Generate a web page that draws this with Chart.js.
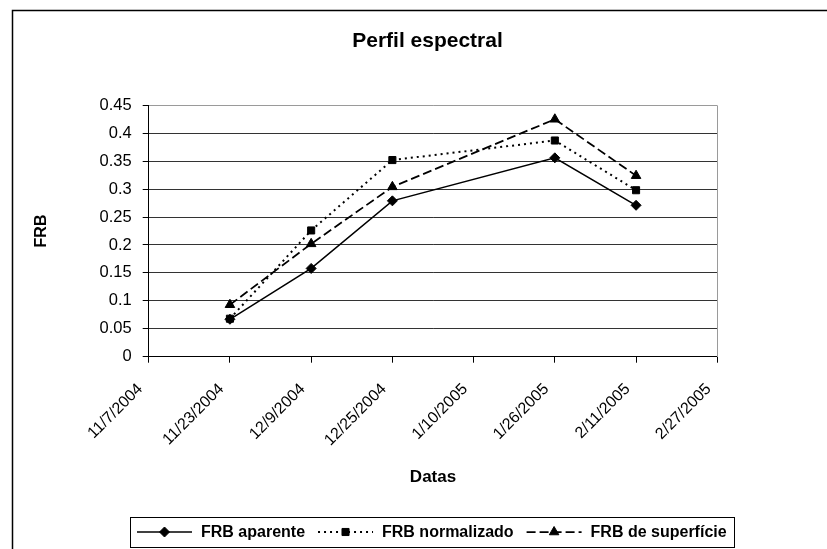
<!DOCTYPE html>
<html>
<head>
<meta charset="utf-8">
<title>Perfil espectral</title>
<script src="https://cdn.jsdelivr.net/npm/chart.js@4.4.0/dist/chart.umd.min.js"></script>
<style>
  html, body { margin: 0; padding: 0; background: #fff; overflow: hidden; }
  canvas { display: block; }
</style>
</head>
<body>
<canvas id="grafico" width="827" height="549"></canvas>
<script>
// datas das medições (m/d/aaaa)
const datas = ["11/23/2004", "12/9/2004", "12/25/2004", "1/26/2005", "2/11/2005"];

// séries
const frbAparente = [0.067, 0.158, 0.279, 0.356, 0.271];
const frbNormalizado = [0.068, 0.226, 0.352, 0.387, 0.298];
const frbSuperficie = [0.093, 0.202, 0.304, 0.425, 0.324];

// rótulos dos eixos
const xTickLabels = ["11/7/2004", "11/23/2004", "12/9/2004", "12/25/2004",
  "1/10/2005", "1/26/2005", "2/11/2005", "2/27/2005"];
const yTicks = [0, 0.05, 0.1, 0.15, 0.2, 0.25, 0.3, 0.35, 0.4, 0.45];
const yTickLabels = ["0", "0.05", "0.1", "0.15", "0.2", "0.25", "0.3", "0.35", "0.4", "0.45"];

const FONT = "'Liberation Sans', Arial, sans-serif";

// dias desde 1970 (eixo x linear)
function dia(s) {
  const [m, d, y] = s.split("/").map(Number);
  return Date.UTC(y, m - 1, d) / 86400000;
}

const pontos = (vals) => vals.map((v, i) => ({ x: dia(datas[i]), y: v }));

Chart.defaults.font.family = FONT;
Chart.defaults.color = "#000";

function marcador(ctx, estilo, x, y, r) {
  ctx.beginPath();
  if (estilo === "rectRot") {
    ctx.moveTo(x, y - r); ctx.lineTo(x + r, y); ctx.lineTo(x, y + r); ctx.lineTo(x - r, y);
  } else if (estilo === "rect") {
    const s = r * Math.SQRT1_2;
    ctx.rect(x - s, y - s, 2 * s, 2 * s);
  } else {
    const h = r * 1.5, w = r * Math.sqrt(3) / 2;
    ctx.moveTo(x, y - r); ctx.lineTo(x + w, y + h - r); ctx.lineTo(x - w, y + h - r);
  }
  ctx.closePath();
  ctx.fill();
  ctx.stroke();
}

// moldura externa + borda cinza da área de plotagem
const moldura = {
  id: "moldura",
  beforeDraw(chart) {
    const ctx = chart.ctx;
    ctx.save();
    ctx.strokeStyle = "#000";
    ctx.lineWidth = 1.5;
    ctx.strokeRect(12.5, 10.5, 1000, 1000);
    ctx.restore();
  },
  beforeDatasetsDraw(chart) {
    const { ctx, chartArea: a } = chart;
    ctx.save();
    ctx.strokeStyle = "#9a9a9a";
    ctx.lineWidth = 1;
    ctx.beginPath();
    ctx.moveTo(Math.round(a.right) + 0.5, Math.round(a.top) + 0.5);
    ctx.lineTo(Math.round(a.right) + 0.5, Math.round(a.bottom));
    ctx.stroke();
    ctx.restore();
  },
};

// legenda no estilo Excel (linha + marcador)
const legenda = {
  id: "legenda",
  afterDraw(chart) {
    const ctx = chart.ctx;
    const sampleW = 55, gapText = 9, gapItem = 13, pad = 7, h = 30;
    ctx.save();
    ctx.font = "bold 16px " + FONT;
    const itens = chart.data.datasets.map((ds) => ({ ds, w: ctx.measureText(ds.label).width }));
    const total = pad * 2 + itens.reduce((a, it) => a + sampleW + gapText + it.w, 0) + gapItem * (itens.length - 1);
    const a = chart.chartArea;
    let x = Math.round((a.left + a.right) / 2 - 1.5 - total / 2);
    const top = Math.round(chart.scales.x.bottom + 20);
    const cy = top + h / 2;
    ctx.strokeStyle = "#000";
    ctx.lineWidth = 1;
    ctx.strokeRect(x + 0.5, top + 0.5, Math.round(total), h);
    x += pad;
    itens.forEach((it) => {
      const ds = it.ds;
      ctx.strokeStyle = "#000";
      ctx.fillStyle = "#000";
      ctx.lineWidth = ds.borderWidth;
      ctx.setLineDash(ds.borderDash || []);
      ctx.beginPath();
      ctx.moveTo(x, cy);
      ctx.lineTo(x + sampleW, cy);
      ctx.stroke();
      ctx.setLineDash([]);
      ctx.lineWidth = 1;
      marcador(ctx, ds.pointStyle, x + sampleW / 2, cy, ds.pointRadius);
      ctx.textBaseline = "middle";
      ctx.textAlign = "left";
      ctx.fillText(ds.label, x + sampleW + gapText, cy + 1);
      x += sampleW + gapText + it.w + gapItem;
    });
    ctx.restore();
  },
};

new Chart(document.getElementById("grafico"), {
  type: "line",
  data: {
    datasets: [
      {
        label: "FRB aparente",
        data: pontos(frbAparente),
        borderColor: "#000", backgroundColor: "#000",
        borderWidth: 1.5,
        pointStyle: "rectRot", pointRadius: 5,
        pointBackgroundColor: "#000", pointBorderColor: "#000", pointBorderWidth: 1,
      },
      {
        label: "FRB normalizado",
        data: pontos(frbNormalizado),
        borderColor: "#000", backgroundColor: "#000",
        borderWidth: 2, borderDash: [2, 4],
        pointStyle: "rect", pointRadius: 5,
        pointBackgroundColor: "#000", pointBorderColor: "#000", pointBorderWidth: 1,
      },
      {
        label: "FRB de superfície",
        data: pontos(frbSuperficie),
        borderColor: "#000", backgroundColor: "#000",
        borderWidth: 1.75, borderDash: [9, 4],
        pointStyle: "triangle", pointRadius: 5.5,
        pointBackgroundColor: "#000", pointBorderColor: "#000", pointBorderWidth: 1,
      },
    ],
  },
  options: {
    responsive: false,
    animation: false,
    devicePixelRatio: 1,
    layout: { padding: { left: 28, right: 0, top: 10, bottom: 52.3 } },
    elements: { line: { tension: 0, fill: false } },
    plugins: {
      legend: { display: false },
      tooltip: { enabled: false },
      title: {
        display: true,
        text: "Perfil espectral",
        color: "#000",
        font: { size: 21, weight: "bold" },
        padding: { top: 18.4, bottom: 51.7 },
      },
    },
    scales: {
      x: {
        type: "linear",
        min: dia(xTickLabels[0]),
        max: dia(xTickLabels[xTickLabels.length - 1]),
        afterBuildTicks: (s) => { s.ticks = xTickLabels.map((t) => ({ value: dia(t) })); },
        afterFit: (s) => { s.height = 140; },
        ticks: {
          callback: (v, i) => xTickLabels[i],
          autoSkip: false,
          minRotation: 45,
          maxRotation: 45,
          labelOffset: -8.5,
          padding: 17,
          color: "#000",
          font: { size: 16 },
        },
        grid: { drawOnChartArea: false, tickLength: 6, color: "#000" },
        border: { color: "#000", width: 1 },
        title: {
          display: true,
          text: "Datas",
          color: "#000",
          font: { size: 17, weight: "bold" },
          padding: { top: 0, bottom: 9 },
        },
      },
      y: {
        min: 0,
        max: 0.45,
        afterBuildTicks: (s) => { s.ticks = yTicks.map((v) => ({ value: v })); },
        afterFit: (s) => { s.width = 120.7; },
        ticks: {
          callback: (v, i) => yTickLabels[i],
          padding: 11,
          color: "#000",
          font: { size: 16.5 },
        },
        grid: {
          color: (c) => (c.tick && c.tick.value === 0.45 ? "#9a9a9a" : "#333"),
          tickColor: "#000",
          tickLength: 6,
          lineWidth: 1,
        },
        border: { color: "#000", width: 1 },
        title: {
          display: true,
          text: "FRB",
          color: "#000",
          font: { size: 16, weight: "bold" },
          padding: { top: 4, bottom: 0 },
        },
      },
      y2: {
        position: "right",
        display: true,
        afterFit: (s) => { s.width = 109.7; },
        ticks: { display: false },
        grid: { display: false, drawTicks: false },
        border: { display: false },
      },
    },
  },
  plugins: [moldura, legenda],
});
</script>
</body>
</html>
